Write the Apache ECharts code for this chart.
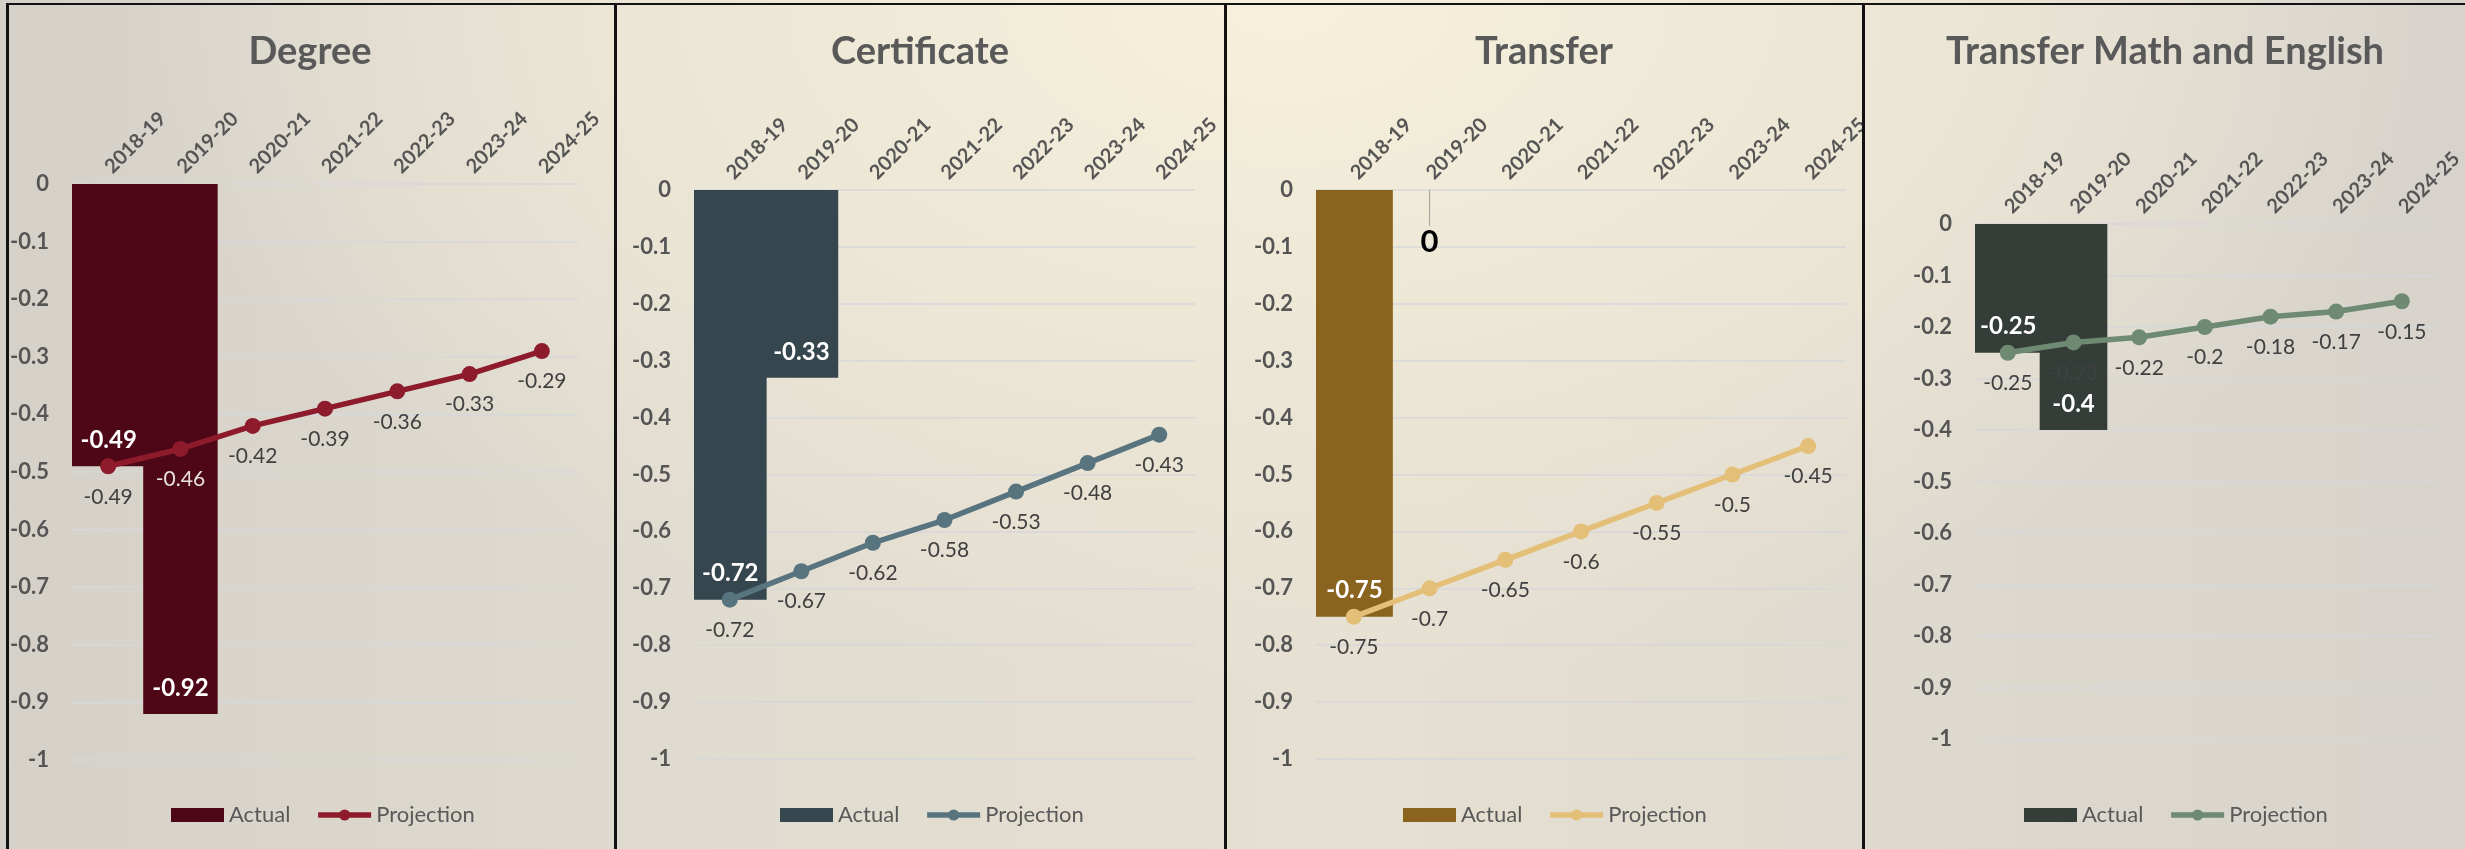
<!DOCTYPE html>
<html>
<head>
<meta charset="utf-8">
<script src="https://cdn.jsdelivr.net/npm/echarts@6/dist/echarts.min.js"></script>
<style>
html, body { margin: 0; padding: 0; }
body {
  width: 2465px; height: 849px; overflow: hidden; position: relative;
  background:
    radial-gradient(ellipse 55% 95% at 52% 0%, #f6f0dc 0%, #ebe5d5 50%, rgba(230,225,214,0) 85%),
    linear-gradient(90deg, #d5d1c9 0%, #e0dbd0 28%, #e6e0d2 55%, #d7d3cc 100%);
}
#chart { position: absolute; left: 0; top: 0; width: 2465px; height: 849px; }
.hline { position: absolute; left: 6px; right: 0; top: 3px; height: 2px; background: #121212; }
.vline { position: absolute; top: 3px; bottom: 0; width: 3px; background: #121212; }
</style>
</head>
<body>
<div id="chart"></div>
<div class="hline"></div>
<div class="vline" style="left:6px"></div>
<div class="vline" style="left:614px"></div>
<div class="vline" style="left:1224px"></div>
<div class="vline" style="left:1862px"></div>
<script>
var years = ['2018-19', '2019-20', '2020-21', '2021-22', '2022-23', '2023-24', '2024-25'];

var degreeActual = [-0.49, -0.92];
var degreeProjection = [-0.49, -0.46, -0.42, -0.39, -0.36, -0.33, -0.29];

var certActual = [-0.72, -0.33];
var certProjection = [-0.72, -0.67, -0.62, -0.58, -0.53, -0.48, -0.43];

var transferActual = [-0.75, 0];
var transferProjection = [-0.75, -0.7, -0.65, -0.6, -0.55, -0.5, -0.45];

var tmeActual = [-0.25, -0.4];
var tmeProjection = [-0.25, -0.23, -0.22, -0.2, -0.18, -0.17, -0.15];

var panels = [
  { key: 'deg', title: 'Degree', actual: degreeActual, projection: degreeProjection,
    barColor: '#4e0717', lineColor: '#8d1b2c',
    grid: { left: 72, top: 184, width: 506, height: 576 }, titleX: 310, legendLeft: 166 },
  { key: 'cert', title: 'Certificate', actual: certActual, projection: certProjection,
    barColor: '#36464e', lineColor: '#58747f',
    grid: { left: 694, top: 190, width: 501, height: 569 }, titleX: 920, legendLeft: 775 },
  { key: 'tr', title: 'Transfer', actual: transferActual, projection: transferProjection,
    barColor: '#8a641e', lineColor: '#e4bf78',
    grid: { left: 1316, top: 190, width: 530, height: 569 }, titleX: 1544, legendLeft: 1398 },
  { key: 'tme', title: 'Transfer Math and English', actual: tmeActual, projection: tmeProjection,
    barColor: '#343d37', lineColor: '#6e8a72',
    grid: { left: 1975, top: 224, width: 467, height: 515 }, titleX: 2165, legendLeft: 2019 }
];

var myChart = echarts.init(document.getElementById('chart'), null, { renderer: 'canvas' });

var series = [];
panels.forEach(function (p, i) {
  var zeroIdx = p.actual.indexOf(0);
  var barData = p.actual.map(function (v) {
    if (v === 0) {
      // zero bar: black label pulled down with a leader line
      return { value: v, label: { color: '#000', fontSize: 31, fontWeight: 'bold', position: 'bottom', distance: 0 } };
    }
    return v;
  });
  series.push({
    name: p.key + '|Actual',
    type: 'bar',
    xAxisIndex: i,
    yAxisIndex: i,
    data: barData,
    barWidth: '103%',
    barCategoryGap: '0%',
    itemStyle: { color: p.barColor },
    label: {
      show: true,
      position: 'insideBottom',
      distance: 14,
      color: '#fff',
      fontWeight: 'bold',
      fontSize: 24,
      fontFamily: 'Lato'
    },
    labelLayout: function (params) {
      if (params.dataIndex === zeroIdx) {
        return { dy: 36 };
      }
      return {};
    },
    labelLine: { show: true, lineStyle: { color: '#a0a0a0', width: 1 } },
    z: 2
  });
  var lineData = p.projection.map(function (v, j) {
    // label sitting on the dark Degree bar is light
    if (p.key === 'deg' && j === 1) {
      return { value: v, label: { color: '#e6e2da' } };
    }
    return v;
  });
  series.push({
    name: p.key + '|Projection',
    type: 'line',
    xAxisIndex: i,
    yAxisIndex: i,
    data: lineData,
    symbol: 'circle',
    symbolSize: 16,
    lineStyle: { color: p.lineColor, width: 5.5 },
    itemStyle: { color: p.lineColor },
    label: {
      show: true,
      position: 'bottom',
      distance: 12,
      color: '#404040',
      fontSize: 21,
      fontFamily: 'Lato'
    },
    z: 3
  });
});

var option = {
  animation: false,
  textStyle: { fontFamily: 'Lato' },
  graphic: panels.map(function (p) {
    return {
      type: 'text',
      x: p.titleX,
      y: 52,
      style: {
        text: p.title,
        font: 'bold 38px Lato',
        fill: '#595959',
        textAlign: 'center',
        textVerticalAlign: 'middle'
      }
    };
  }),
  grid: panels.map(function (p) { return p.grid; }),
  xAxis: panels.map(function (p, i) {
    return {
      type: 'category',
      gridIndex: i,
      data: years,
      position: 'top',
      axisLine: { show: false },
      axisTick: { show: false },
      axisLabel: {
        interval: 0,
        rotate: 45,
        margin: 14,
        color: '#555',
        fontWeight: 'bold',
        fontSize: 20
      }
    };
  }),
  yAxis: panels.map(function (p, i) {
    return {
      type: 'value',
      gridIndex: i,
      min: -1,
      max: 0,
      interval: 0.1,
      axisLine: { show: false },
      axisTick: { show: false },
      axisLabel: {
        margin: 23,
        color: '#555',
        fontWeight: 'bold',
        fontSize: 22
      },
      splitLine: { lineStyle: { color: '#d6d7da', width: 1.5 } }
    };
  }),
  legend: panels.map(function (p) {
    return {
      data: [{ name: p.key + '|Actual', icon: 'rect' }, { name: p.key + '|Projection' }],
      left: p.legendLeft,
      top: 799,
      itemWidth: 53,
      itemHeight: 14,
      itemGap: 25,
      selectedMode: false,
      lineStyle: { width: 5.5 },
      formatter: function (name) { return name.split('|')[1]; },
      textStyle: { color: '#595959', fontSize: 22 }
    };
  }),
  series: series
};

myChart.setOption(option, true);
</script>
</body>
</html>
